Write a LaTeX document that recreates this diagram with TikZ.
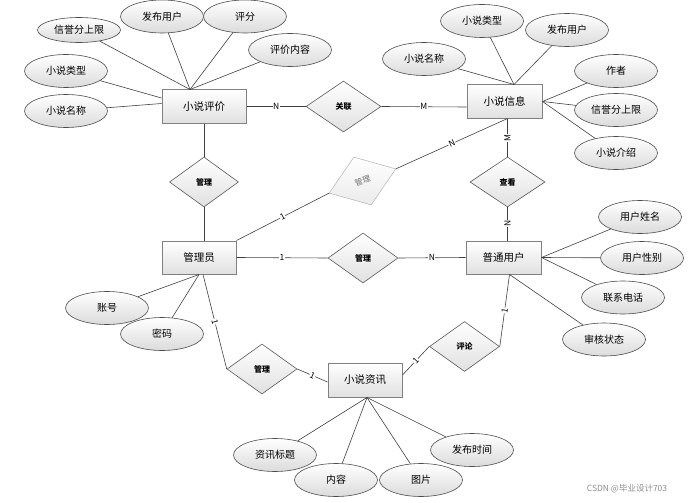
\documentclass[tikz,border=0pt]{standalone}
\usepackage{fontspec}
\setmainfont{Noto Sans CJK SC}
\usetikzlibrary{shapes.geometric}

\begin{document}
\begin{tikzpicture}[
	x=1pt, y=-1pt,
	entity/.style={ rectangle, draw=black!50, line width=1pt, top color=white, bottom color=black!12, minimum width=75pt, minimum height=33pt, inner sep=0pt, font=\fontsize{10.5}{12}\selectfont },
	attr/.style={ ellipse, draw=black!70, line width=0.6pt, top color=white, bottom color=black!14, minimum width=83pt, minimum height=33pt, inner sep=0pt, font=\fontsize{10}{12}\selectfont },
	rel/.style={ diamond, draw=black!65, line width=0.6pt, top color=white, bottom color=black!12, minimum width=70pt, minimum height=50pt, inner sep=0pt, font=\bfseries\fontsize{8}{10}\selectfont },
	relg/.style={ diamond, draw=black!30, line width=0.5pt, top color=white, bottom color=black!8, minimum width=71pt, minimum height=51pt, inner sep=0pt, text=black!55, font=\fontsize{8}{10}\selectfont },
	card/.style={ fill=white, inner sep=0.5pt, font=\fontsize{8.5}{10}\selectfont },
	edge/.style={ draw=black!75, line width=0.6pt }
]
\useasboundingbox (0,0) rectangle (699,503);

\node at (204,106.5) (pj) [entity, minimum width=84pt] {小说评价};
\node at (504.5,101.5) (xx) [entity] {小说信息};
\node at (199,257.5) (gly) [entity, minimum width=74pt] {管理员};
\node at (503.5,257.5) (pt) [entity] {普通用户};
\node at (365,380) (zx) [entity, minimum width=74pt, minimum height=34pt] {小说资讯};

\node at (343.5,106.5) (gl) [rel, minimum width=75pt, minimum height=51pt] {关联};
\node at (204,182) (gl1) [rel, minimum width=69pt] {管理};
\node at (362.5,181) (gl2) [relg, rotate=20] {管理};
\node at (507.5,182) (ck) [rel, minimum width=75pt] {查看};
\node at (363,258) (gl3) [rel] {管理};
\node at (464.5,346.5) (pl) [rel] {评论};
\node at (262,369) (gl4) [rel] {管理};

\node at (79,30) (pj1) [attr, minimum height=25pt] {信誉分上限};
\node at (162,16.5) (pj2) [attr] {发布用户};
\node at (245,16.5) (pj3) [attr] {评分};
\node at (290,50) (pj4) [attr] {评价内容};
\node at (66,71) (pj5) [attr] {小说类型};
\node at (66,111) (pj6) [attr] {小说名称};
\coordinate (pj-n) at ([xshift=-14pt]pj.north);
\draw [edge] (pj1) to (pj-n);
\draw [edge] (pj2) to (pj-n);
\draw [edge] (pj3) to (pj-n);
\draw [edge] (pj4) to (pj-n);
\draw [edge] (pj5) to ([yshift=8.5pt]pj.west);
\draw [edge] (pj6) to ([yshift=3pt]pj.west);

\node at (482,21) (xx1) [attr] {小说类型};
\node at (567,30) (xx2) [attr] {发布用户};
\node at (424,59) (xx3) [attr] {小说名称};
\node at (616,71) (xx4) [attr] {作者};
\node at (616,110) (xx5) [attr] {信誉分上限};
\node at (616,153) (xx6) [attr] {小说介绍};
\coordinate (xx-n) at ([xshift=9.5pt]xx.north);
\draw [edge] (xx1) to (xx-n);
\draw [edge] (xx2) to (xx-n);
\draw [edge] (xx3) to (xx-n);
\draw [edge] (xx4) to (xx.east);
\draw [edge] (xx5) to (xx.east);
\draw [edge] (xx6) to (xx.east);

\node at (640,217) (pt1) [attr] {用户姓名};
\node at (642,258) (pt2) [attr] {用户性别};
\node at (623,297.5) (pt3) [attr] {联系电话};
\node at (604,339.5) (pt4) [attr] {审核状态};
\coordinate (pt-s) at ([xshift=6pt]pt.south);
\draw [edge] (pt1) to (pt.east);
\draw [edge] (pt2) to (pt.east);
\draw [edge] (pt3) to (pt.east);
\draw [edge] (pt4) to (pt-s);

\node at (107,308) (gly1) [attr] {账号};
\draw [edge] (gly1) to (gly.south);
\node at (162,334) (gly2) [attr] {密码};
\draw [edge] (gly2) to (gly.south);

\node at (275,455) (zx1) [attr] {资讯标题};
\node at (336,480) (zx2) [attr] {内容};
\node at (421,480) (zx3) [attr] {图片};
\node at (472,450) (zx4) [attr] {发布时间};
\coordinate (zx-s) at ([xshift=2pt]zx.south);
\draw [edge] (zx1) to (zx-s);
\draw [edge] (zx2) to (zx-s);
\draw [edge] (zx3) to (zx-s);
\draw [edge] (zx4) to (zx-s);

\coordinate (xx-w) at ([yshift=-5.5pt]xx.west);
\coordinate (xx-s) at ([xshift=3pt]xx.south);
\draw [edge] (pj.south) to (gl1.north);
\draw [edge] (gl1.south) to ([xshift=5pt]gly.north);
\draw [edge] (pj.east) to node [card] {N} (gl.west);
\draw [edge] (gl.east) to node [card] {M} (xx-w);
\draw [edge] (gly.north east) to node [card, sloped] {1} (gl2.west);
\draw [edge] (gl2.east) to node [card, sloped] {N} (xx-s);
\draw [edge] (xx-s) to node [card, rotate=90] {M} (ck.north);
\draw [edge] (ck.south) to node [card, rotate=90] {N} ([xshift=4pt]pt.north);
\draw [edge] (gly.east) to node [card] {1} (gl3.west);
\draw [edge] (gl3.east) to node [card] {N} (pt.west);
\draw [edge] ([xshift=4pt]gly.south) to node [card, sloped] {1} (gl4.west);
\draw [edge] (gl4.east) to node [card, sloped] {1} ([yshift=-2pt]zx.west);
\draw [edge] ([yshift=5pt]zx.east) to node [card, sloped] {1} (pl.west);
\draw [edge] (pl.east) to node [card, sloped] {1} (pt-s);

\node at (627,489) (wm) [font=\fontsize{8.5}{10}\selectfont, text=black!45] {CSDN @毕业设计703};

\end{tikzpicture}
\end{document}
